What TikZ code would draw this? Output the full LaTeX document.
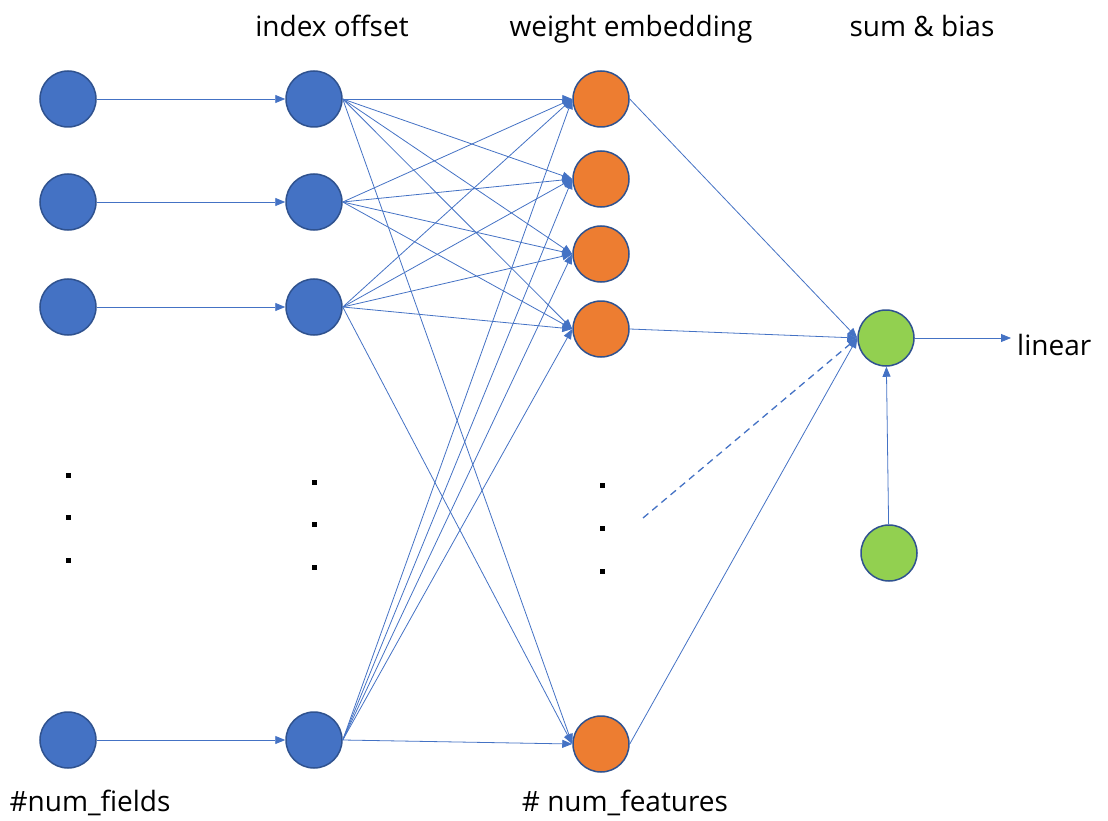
\documentclass[tikz,border=0pt]{standalone}
\usepackage{fontspec}
\setmainfont{Open Sans}
\usetikzlibrary{arrows.meta,positioning}
\definecolor{unit-blue}{HTML}{4472C4}
\definecolor{unit-rim}{HTML}{2F528F}
\definecolor{unit-orange}{HTML}{ED7D31}
\definecolor{unit-green}{HTML}{92D050}

\begin{document}
\begin{tikzpicture}[x=1pt,y=-1pt,>={Triangle[length=10pt,width=8pt]},shorten >=0pt,node distance=246pt]
  \tikzstyle{unit}=[circle,draw=unit-rim,line width=1.5pt,minimum size=56pt,inner sep=0pt]
  \tikzstyle{field}=[unit,fill=unit-blue]
  \tikzstyle{weight}=[unit,fill=unit-orange]
  \tikzstyle{sumunit}=[unit,fill=unit-green]
  \tikzstyle{heading}=[font=\fontsize{28}{32}\selectfont,anchor=base,inner sep=0pt]
  \useasboundingbox (0,0) rectangle (1108,821);

  \node[field] (f1) at (68,99)  {};
  \node[field] (f2) at (68,202) {};
  \node[field] (f3) at (68,307) {};
  \node[field] (f4) at (68,740) {};
  \node[field] (o1) [right of=f1] {};
  \node[field] (o2) [right of=f2] {};
  \node[field] (o3) [right of=f3] {};
  \node[field] (o4) [right of=f4] {};
  \node[weight] (w1) at (601,99)  {};
  \node[weight] (w2) at (601,179) {};
  \node[weight] (w3) at (601,254) {};
  \node[weight] (w4) at (601,329) {};
  \node[weight] (w5) at (601,744) {};
  \node[sumunit] (sum)  at (886,338) {};
  \node[sumunit] (bias) at (889,553) {};
  \coordinate (more) at (643,518);
  \coordinate (out)  at (1011,338);

  \node[heading] (h1) at (332,37) {index offset};
  \node[heading] (h2) at (631,37) {weight embedding};
  \node[heading] (h3) at (922,37) {sum \& bias};
  \node[heading] (n1) at (90,811) {\#num\_fields};
  \node[heading] (n2) at (625,811) {\# num\_features};
  \node[heading,anchor=base west] (lin) at (1017,355) {linear};

  %% fields to offsets
  \path[->,unit-blue,line width=0.9pt]
  (f1) edge (o1)
  (f2) edge (o2)
  (f3) edge (o3)
  (f4) edge (o4);

  %% offsets to embeddings
  \path[->,unit-blue,line width=0.8pt]
  (o1.east) edge (w1.west)
  (o1.east) edge (w2.west)
  (o1.east) edge (w3.west)
  (o1.east) edge (w4.west)
  (o1.east) edge (w5.west)

  (o2.east) edge (w1.west)
  (o2.east) edge (w2.west)
  (o2.east) edge (w3.west)
  (o2.east) edge (w4.west)

  (o3.east) edge (w1.west)
  (o3.east) edge (w2.west)
  (o3.east) edge (w3.west)
  (o3.east) edge (w4.west)
  (o3.east) edge (w5.west)

  (o4.east) edge (w1.west)
  (o4.east) edge (w2.west)
  (o4.east) edge (w3.west)
  (o4.east) edge (w4.west)
  (o4.east) edge (w5.west);

  %% sum & bias
  \path[->,unit-blue,line width=0.8pt]
  (w1.east) edge (sum.west)
  (w4.east) edge (sum.west)
  (w5.east) edge (sum.west)
  (bias)    edge (sum)
  (sum)     edge (out);
  \draw[->,unit-blue,line width=1.3pt,dashed,dash pattern=on 7pt off 5pt] (more) -- (sum.west);

  %% dots
  \foreach \x/\y in {68/475,68/517,68/560,314/482,314/524,314/567,602/485,602/528,602/571}
    \fill (\x-2.5,\y-2.5) rectangle (\x+2.5,\y+2.5);
\end{tikzpicture}
\end{document}
